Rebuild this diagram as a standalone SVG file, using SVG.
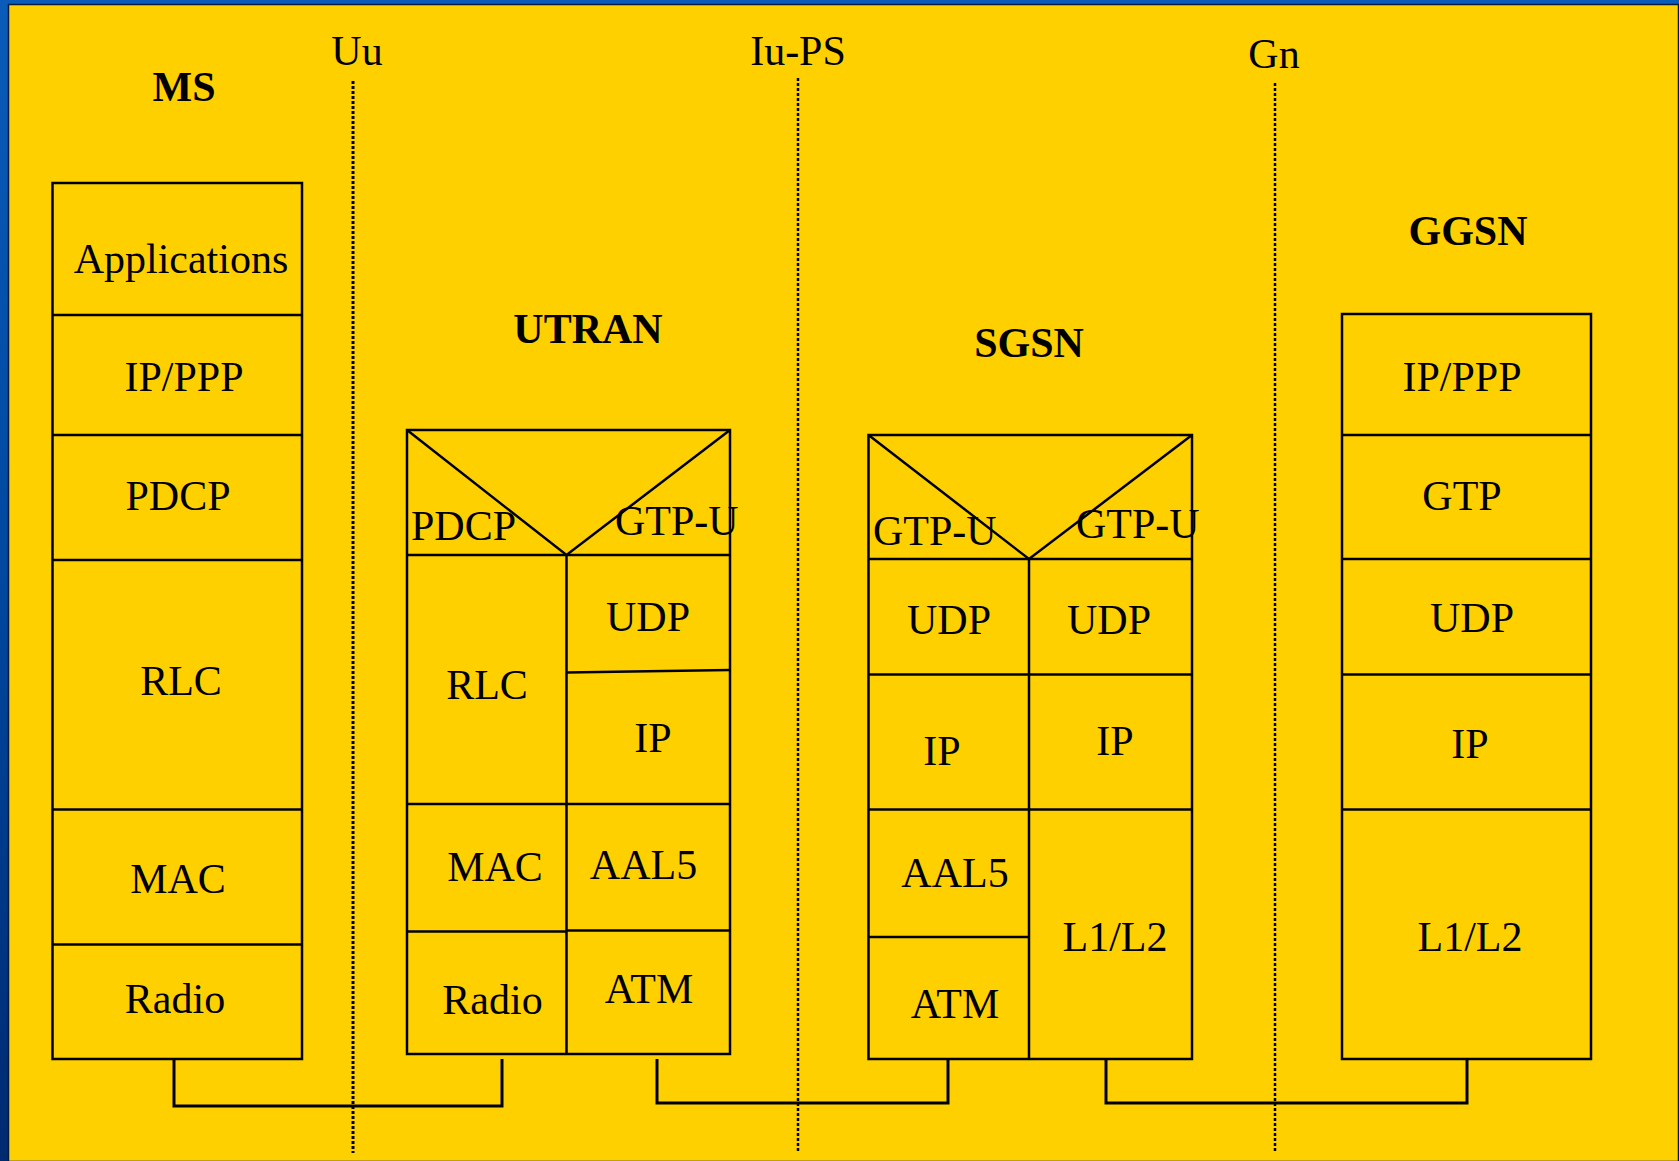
<svg xmlns="http://www.w3.org/2000/svg" width="1679" height="1161" viewBox="0 0 1679 1161">
<defs>
<linearGradient id="bl" x1="0" y1="0" x2="0" y2="1">
<stop offset="0" stop-color="#0a5cb8"/>
<stop offset="0.5" stop-color="#0048a0"/>
<stop offset="1" stop-color="#002a70"/>
</linearGradient>
<style>
.t{font-family:"Liberation Serif","Times New Roman",serif;font-size:42px;fill:#000;text-anchor:middle}
.s{text-anchor:start}
.b{font-weight:bold}
.box{fill:none;stroke:#000;stroke-width:2.5}
.ln{fill:none;stroke:#000;stroke-width:2.5}
.dot{fill:none;stroke:#000;stroke-width:2.5;stroke-dasharray:3 2}
.con{fill:none;stroke:#000;stroke-width:3}
</style>
</defs>
<rect x="0" y="0" width="1679" height="1161" fill="url(#bl)"/>
<rect x="8.5" y="4.5" width="1670" height="1157" fill="#FFD000" stroke="#001a40" stroke-width="1.5"/>

<g id="interfaces">
<line class="dot" x1="353" y1="81" x2="353" y2="1153" style="stroke-width:3"/>
<line class="dot" x1="798" y1="78" x2="798" y2="1151"/>
<line class="dot" x1="1275" y1="83" x2="1275" y2="1153"/>
<text class="t" x="357" y="65">Uu</text>
<text class="t" x="798" y="65">Iu-PS</text>
<text class="t" x="1274" y="68">Gn</text>
</g>

<g id="ms">
<text class="t b" x="184" y="101">MS</text>
<rect class="box" x="52.5" y="183" width="249.5" height="876"/>
<line class="ln" x1="52.5" y1="315" x2="302" y2="315"/>
<line class="ln" x1="52.5" y1="435" x2="302" y2="435"/>
<line class="ln" x1="52.5" y1="560" x2="302" y2="560"/>
<line class="ln" x1="52.5" y1="809.5" x2="302" y2="809.5"/>
<line class="ln" x1="52.5" y1="944.5" x2="302" y2="944.5"/>
<text class="t" x="181" y="273">Applications</text>
<text class="t" x="184" y="391">IP/PPP</text>
<text class="t" x="178" y="510">PDCP</text>
<text class="t" x="181" y="695">RLC</text>
<text class="t" x="178" y="893">MAC</text>
<text class="t" x="175" y="1013">Radio</text>
</g>

<g id="utran">
<text class="t b" x="588" y="343">UTRAN</text>
<rect class="box" x="407" y="430" width="323" height="624"/>
<polyline class="ln" points="407,430 566.5,555 730,430"/>
<line class="ln" x1="407" y1="555" x2="730" y2="555"/>
<line class="ln" x1="566.5" y1="555" x2="566.5" y2="1054"/>
<line class="ln" x1="566.5" y1="672.5" x2="730" y2="670"/>
<line class="ln" x1="407" y1="804" x2="730" y2="804"/>
<line class="ln" x1="407" y1="931.5" x2="566.5" y2="931.5"/>
<line class="ln" x1="566.5" y1="930.5" x2="730" y2="930.5"/>
<text class="t s" x="411" y="540">PDCP</text>
<text class="t s" x="615" y="535">GTP-U</text>
<text class="t" x="487" y="699">RLC</text>
<text class="t" x="648" y="631">UDP</text>
<text class="t" x="653" y="752">IP</text>
<text class="t" x="495" y="881">MAC</text>
<text class="t" x="643.5" y="879">AAL5</text>
<text class="t" x="492.5" y="1014">Radio</text>
<text class="t" x="649" y="1003">ATM</text>
</g>

<g id="sgsn">
<text class="t b" x="1029" y="357">SGSN</text>
<rect class="box" x="868.5" y="435" width="323.5" height="624"/>
<polyline class="ln" points="868.5,435 1029,559 1192,435"/>
<line class="ln" x1="868.5" y1="559" x2="1192" y2="559"/>
<line class="ln" x1="1029" y1="559" x2="1029" y2="1059"/>
<line class="ln" x1="868.5" y1="674.5" x2="1192" y2="674.5"/>
<line class="ln" x1="868.5" y1="809.5" x2="1192" y2="809.5"/>
<line class="ln" x1="868.5" y1="937" x2="1029" y2="937"/>
<text class="t s" x="873" y="545">GTP-U</text>
<text class="t s" x="1076" y="538">GTP-U</text>
<text class="t" x="949" y="634">UDP</text>
<text class="t" x="1109" y="634">UDP</text>
<text class="t" x="942" y="765">IP</text>
<text class="t" x="1115" y="755">IP</text>
<text class="t" x="955" y="887">AAL5</text>
<text class="t" x="955" y="1018">ATM</text>
<text class="t" x="1115" y="951">L1/L2</text>
</g>

<g id="ggsn">
<text class="t b" x="1468" y="245">GGSN</text>
<rect class="box" x="1342" y="314" width="249" height="745"/>
<line class="ln" x1="1342" y1="435" x2="1591" y2="435"/>
<line class="ln" x1="1342" y1="559" x2="1591" y2="559"/>
<line class="ln" x1="1342" y1="674.5" x2="1591" y2="674.5"/>
<line class="ln" x1="1342" y1="809.5" x2="1591" y2="809.5"/>
<text class="t" x="1462" y="391">IP/PPP</text>
<text class="t" x="1462" y="510">GTP</text>
<text class="t" x="1472" y="632">UDP</text>
<text class="t" x="1470" y="758">IP</text>
<text class="t" x="1470" y="951">L1/L2</text>
</g>

<g id="connectors">
<polyline class="con" points="174,1059 174,1106 502,1106 502,1059"/>
<polyline class="con" points="657,1059 657,1103 948,1103 948,1059"/>
<polyline class="con" points="1106,1059 1106,1103 1467,1103 1467,1059"/>
</g>
</svg>
